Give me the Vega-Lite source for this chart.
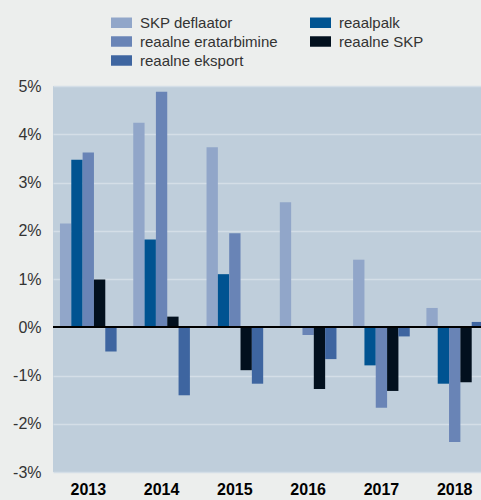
{
  "$schema": "https://vega.github.io/schema/vega-lite/v6.json",
  "autosize": {"type": "none"},
  "width": 428,
  "height": 386,
  "padding": {"left": 53, "top": 86, "right": 0, "bottom": 28},
  "background": "#eceeed",
  "config": {
    "view": {"fill": "#bfcedb", "stroke": null},
    "font": "Liberation Sans"
  },
  "data": {
    "values": [
      {"aasta": "2013", "naitaja": "SKP deflaator", "v": 2.15},
      {"aasta": "2013", "naitaja": "reaalpalk", "v": 3.47},
      {"aasta": "2013", "naitaja": "reaalne eratarbimine", "v": 3.62},
      {"aasta": "2013", "naitaja": "reaalne SKP", "v": 0.99},
      {"aasta": "2013", "naitaja": "reaalne eksport", "v": -0.5},
      {"aasta": "2014", "naitaja": "SKP deflaator", "v": 4.24},
      {"aasta": "2014", "naitaja": "reaalpalk", "v": 1.82},
      {"aasta": "2014", "naitaja": "reaalne eratarbimine", "v": 4.88},
      {"aasta": "2014", "naitaja": "reaalne SKP", "v": 0.22},
      {"aasta": "2014", "naitaja": "reaalne eksport", "v": -1.41},
      {"aasta": "2015", "naitaja": "SKP deflaator", "v": 3.73},
      {"aasta": "2015", "naitaja": "reaalpalk", "v": 1.1},
      {"aasta": "2015", "naitaja": "reaalne eratarbimine", "v": 1.95},
      {"aasta": "2015", "naitaja": "reaalne SKP", "v": -0.89},
      {"aasta": "2015", "naitaja": "reaalne eksport", "v": -1.17},
      {"aasta": "2016", "naitaja": "SKP deflaator", "v": 2.59},
      {"aasta": "2016", "naitaja": "reaalpalk", "v": 0},
      {"aasta": "2016", "naitaja": "reaalne eratarbimine", "v": -0.16},
      {"aasta": "2016", "naitaja": "reaalne SKP", "v": -1.28},
      {"aasta": "2016", "naitaja": "reaalne eksport", "v": -0.66},
      {"aasta": "2017", "naitaja": "SKP deflaator", "v": 1.4},
      {"aasta": "2017", "naitaja": "reaalpalk", "v": -0.79},
      {"aasta": "2017", "naitaja": "reaalne eratarbimine", "v": -1.67},
      {"aasta": "2017", "naitaja": "reaalne SKP", "v": -1.32},
      {"aasta": "2017", "naitaja": "reaalne eksport", "v": -0.19},
      {"aasta": "2018", "naitaja": "SKP deflaator", "v": 0.4},
      {"aasta": "2018", "naitaja": "reaalpalk", "v": -1.17},
      {"aasta": "2018", "naitaja": "reaalne eratarbimine", "v": -2.38},
      {"aasta": "2018", "naitaja": "reaalne SKP", "v": -1.14},
      {"aasta": "2018", "naitaja": "reaalne eksport", "v": 0.11}
    ]
  },
  "layer": [
    {
      "mark": {"type": "bar", "clip": false},
      "encoding": {
        "x": {
          "field": "aasta", "type": "nominal",
          "scale": {"range": [0, 437], "paddingInner": 0.227, "paddingOuter": 0.095},
          "axis": {"title": null, "labelAngle": 0, "ticks": false, "domain": false, "labelFontSize": 16, "labelFontWeight": "bold", "labelColor": "#000000", "labelPadding": 9}
        },
        "xOffset": {
          "field": "naitaja", "type": "nominal",
          "sort": ["SKP deflaator", "reaalpalk", "reaalne eratarbimine", "reaalne SKP", "reaalne eksport"],
          "scale": {"paddingInner": 0, "paddingOuter": 0}
        },
        "y": {
          "field": "v", "type": "quantitative",
          "scale": {"domain": [-3, 5], "nice": false},
          "axis": {"title": null, "values": [-3, -2, -1, 0, 1, 2, 3, 4, 5], "labelExpr": "datum.value + '%'", "ticks": false, "domain": false, "labelFontSize": 16, "labelColor": "#333333", "labelPadding": 12, "gridColor": "#d4dee7", "gridWidth": 1.5}
        },
        "color": {
          "field": "naitaja", "type": "nominal",
          "scale": {
            "domain": ["SKP deflaator", "reaalne eratarbimine", "reaalne eksport", "reaalpalk", "reaalne SKP"],
            "range": ["#91a6c9", "#6984b6", "#3e65a0", "#005391", "#02101e"]
          },
          "legend": {
            "title": null, "orient": "none", "legendX": 61, "legendY": -71,
            "columns": 2, "columnPadding": 32, "rowPadding": 3,
            "symbolType": "M-2,-1h4v2h-4z", "symbolSize": 110, "symbolStrokeWidth": 0, "symbolOpacity": 1,
            "labelFontSize": 15, "labelColor": "#333333", "labelOffset": 11, "labelLimit": 300
          }
        }
      }
    },
    {
      "mark": {"type": "rule", "color": "#000000", "strokeWidth": 1.5},
      "encoding": {"y": {"datum": 0}}
    }
  ]
}
